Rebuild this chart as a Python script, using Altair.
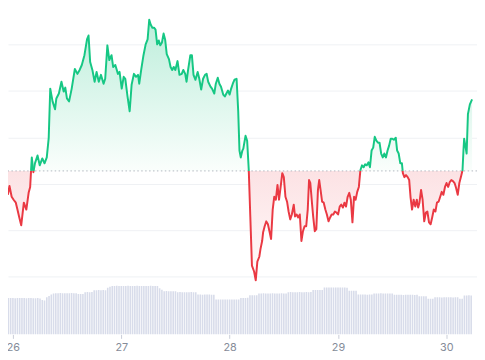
import altair as alt
import pandas as pd

# ---- price series (hours since day 26 00:00, price in chart units) ----
hours = [
    -1.12, -0.76, -0.28, 0.15, 0.64, 1.00, 1.36, 1.84, 2.42, 2.97,
    3.48, 3.82, 4.18, 4.54, 4.88, 5.45, 5.94, 6.51, 7.00, 7.50,
    7.93, 8.27, 8.78, 9.33, 9.62, 10.18, 10.75, 11.24, 11.60, 11.96,
    12.44, 13.02, 13.72, 14.29, 14.78, 15.26, 15.84, 16.41, 16.75, 17.11,
    17.60, 18.10, 18.53, 19.02, 19.50, 20.08, 20.44, 20.92, 21.35, 21.84,
    22.20, 22.68, 23.26, 23.62, 24.10, 24.53, 24.89, 25.38, 25.86, 26.29,
    26.80, 27.28, 27.71, 27.98, 28.41, 28.92, 29.40, 29.83, 30.19, 30.53,
    30.89, 31.25, 31.59, 31.95, 32.31, 32.65, 33.01, 33.37, 33.71, 34.07,
    34.56, 34.92, 35.28, 35.62, 35.98, 36.46, 36.89, 37.40, 37.74, 38.16,
    38.46, 38.80, 39.30, 39.64, 40.00, 40.43, 40.92, 41.28, 41.70, 42.12,
    42.55, 42.91, 43.25, 43.76, 44.10, 44.60, 44.94, 45.37, 45.73, 46.09,
    46.58, 46.94, 47.28, 47.64, 48.00, 48.34, 48.70, 49.06, 49.54, 49.90,
    50.18, 50.46, 50.82, 51.03, 51.52, 51.88, 52.24, 52.58, 52.94, 53.42,
    53.78, 54.14, 54.57, 54.84, 55.20, 55.42, 55.76, 56.12, 56.48, 56.82,
    57.18, 57.54, 57.88, 58.24, 58.60, 58.94, 59.30, 59.66, 60.00, 60.36,
    60.72, 61.06, 61.42, 61.78, 62.20, 62.48, 62.84, 63.18, 63.54, 63.90,
    64.24, 64.60, 64.96, 65.30, 65.59, 65.87, 66.23, 66.50, 66.86, 67.20,
    67.56, 67.84, 68.14, 68.48, 68.84, 69.20, 69.54, 69.90, 70.26, 70.60,
    70.96, 71.32, 71.66, 72.02, 72.38, 72.72, 73.08, 73.44, 73.78, 74.14,
    74.50, 74.84, 75.20, 75.56, 75.90, 76.26, 76.62, 76.96, 77.32, 77.68,
    78.02, 78.38, 78.74, 79.08, 79.44, 79.80, 80.14, 80.50, 80.86, 81.20,
    81.56, 81.92, 82.26, 82.62, 82.98, 83.32, 83.68, 84.04, 84.38, 84.80,
    85.10, 85.44, 85.80, 86.16, 86.37, 86.71, 87.07, 87.43, 87.77, 88.06,
    88.40, 88.76, 89.12, 89.46, 89.76, 90.04, 90.40, 90.74, 91.10, 91.46,
    91.80, 92.16, 92.52, 92.86, 93.22, 93.58, 93.92, 94.28, 94.64, 94.98,
    95.34, 95.70, 96.04, 96.40, 96.76, 97.10, 97.46, 97.82, 98.16, 98.52,
    98.88, 99.22, 99.58, 99.79, 99.94, 100.28, 100.49, 100.78, 101.21, 101.70,
]
price = [
    105, 114, 103, 100, 97, 90, 83, 74, 97, 90,
    107, 113, 143, 128, 137, 145, 135, 142, 137, 143,
    163, 213, 200, 192, 203, 208, 220, 210, 214, 203,
    200, 213, 233, 228, 232, 237, 247, 263, 267, 240,
    232, 220, 230, 220, 227, 218, 223, 257, 242, 247,
    235, 237, 228, 230, 213, 225, 223, 205, 190, 217,
    228, 225, 227, 218, 232, 247, 258, 263, 283, 278,
    275, 275, 273, 258, 262, 257, 260, 269, 263, 248,
    243, 235, 232, 235, 232, 241, 227, 228, 232, 228,
    220, 232, 247, 247, 227, 222, 230, 223, 212, 223,
    227, 228, 220, 215, 213, 208, 218, 224, 218, 215,
    207, 205, 208, 211, 207, 213, 218, 222, 223, 190,
    150, 143, 150, 152, 165, 160, 130, 83, 33, 27,
    18, 37, 42, 50, 58, 67, 73, 78, 75, 68,
    60, 90, 103, 100, 115, 100, 113, 127, 123, 103,
    98, 88, 80, 85, 95, 83, 85, 82, 85, 58,
    68, 73, 73, 90, 120, 117, 97, 83, 68, 70,
    110, 120, 110, 98, 97, 90, 85, 78, 82, 85,
    85, 88, 87, 85, 93, 95, 92, 97, 93, 103,
    107, 100, 77, 103, 100, 108, 113, 130, 135, 133,
    136, 135, 138, 133, 150, 153, 164, 160, 158, 158,
    147, 143, 147, 143, 150, 155, 162, 162, 161, 163,
    150, 147, 137, 137, 127, 123, 125, 123, 120, 103,
    90, 100, 93, 100, 92, 97, 110, 100, 78, 87,
    88, 77, 75, 82, 90, 88, 97, 98, 103, 108,
    105, 113, 117, 113, 118, 120, 119, 117, 112, 105,
    117, 123, 130, 150, 162, 153, 147, 187, 197, 202,
]
baseline_price = 129.3
grid_values = [22, 69, 116, 163, 211, 258]

# ---- volume (one bar every half hour) ----
vol_start = -1.0
vol_step = 0.5
volume = [
    371, 370, 370, 369, 370, 370, 371, 370, 369, 370, 370, 368, 369, 370, 366,
    350, 345,
    378, 392, 405, 415,
    420, 420, 421, 420, 419, 420, 420, 421, 420, 418,
    412, 411, 412,
    430, 431, 430, 432,
    450, 450, 451, 450, 452, 450,
    475, 486,
    493, 493, 494, 493, 493, 492, 493, 494, 493, 493, 493,
    494, 493, 493, 492, 493, 493, 494, 493, 493, 492,
    470, 455,
    440, 441, 440, 439, 440, 440,
    430, 431, 430, 430, 429, 430, 431, 430, 428,
    405, 405, 404, 406, 405, 405, 404, 403,
    355, 356, 355, 354, 355, 355, 356, 355, 354, 355, 356,
    370, 371, 370, 372,
    398, 398, 399, 398,
    417, 417, 418, 417, 416, 417, 418, 417, 417, 416, 418, 417, 417,
    430, 431, 430, 429, 430, 431, 430, 430, 432, 430, 431,
    452, 452, 453, 452, 451,
    477, 477, 478, 477, 476, 477, 478, 477, 477, 476, 475,
    445, 444, 445, 443,
    405, 405, 406, 405, 404, 405, 406,
    417, 416, 417, 418, 417, 417, 416, 417, 417,
    403, 403, 404, 403, 402, 403, 403, 404, 403, 402, 403,
    388, 388, 387, 388,
    363, 362, 363,
    377, 378, 377, 376, 377, 377, 378, 377, 376, 377, 377,
    363, 364,
    397, 397, 398, 397,
]
vol_hours = [vol_start + vol_step * i for i in range(len(volume))]

day_ticks = [0, 24, 48, 72, 96]
day_labels = ["26", "27", "28", "29", "30"]

GREEN = "#16c784"
RED = "#ea3943"

# ---- split line into above / below baseline segments ----
rows = []
seg = 0
side = lambda p: "up" if p >= baseline_price else "down"
pt, pp = hours[0], price[0]
cur = side(pp)
rows.append((pt, pp, seg, cur))
for t, p in zip(hours[1:], price[1:]):
    s = side(p)
    if s != cur:
        f = (baseline_price - pp) / (p - pp)
        tc = pt + f * (t - pt)
        rows.append((tc, baseline_price, seg, cur))
        seg += 1
        cur = s
        rows.append((tc, baseline_price, seg, cur))
    rows.append((t, p, seg, cur))
    pt, pp = t, p

line_df = pd.DataFrame(rows, columns=["t", "p", "seg", "side"])
line_df["i"] = range(len(line_df))
area_df = line_df.drop_duplicates(subset=["t", "p"]).copy()
area_df["up"] = area_df["p"].clip(lower=baseline_price)
area_df["down"] = area_df["p"].clip(upper=baseline_price)
area_df["base"] = baseline_price

vol_df = pd.DataFrame({"t": vol_hours, "vol": volume})
base_df = pd.DataFrame({"b": [baseline_price]})

label_expr = " : ".join(
    f"datum.value == {v} ? '{l}'" for v, l in zip(day_ticks, day_labels)
) + " : ''"

x_enc = alt.X(
    "t:Q",
    scale=alt.Scale(domain=[0, 101.7], nice=False, zero=False),
    axis=alt.Axis(
        values=day_ticks, labelExpr=label_expr, title=None, grid=False,
        domain=False, ticks=True, tickSize=4, tickColor="#c9cdd8",
        labelColor="#858c99", labelFontSize=11, labelFont="Inter",
        labelPadding=3, labelFlush=True,
    ),
)
price_scale = alt.Scale(domain=[-37, 292], nice=False, zero=False)

vol_layer = alt.Chart(vol_df).mark_bar(size=1.6, color="#d8dcea", clip=True).encode(
    x=x_enc,
    y=alt.Y("vol:Q", scale=alt.Scale(domain=[0, 3290], nice=False), axis=None),
)

green_grad = alt.Gradient(
    gradient="linear", x1=0, x2=0, y1=0, y2=1,
    stops=[alt.GradientStop(color="#bdeedb", offset=0),
           alt.GradientStop(color="#fafefc", offset=1)],
)
red_grad = alt.Gradient(
    gradient="linear", x1=0, x2=0, y1=0, y2=1,
    stops=[alt.GradientStop(color="#fce2e4", offset=0),
           alt.GradientStop(color="#fffbfb", offset=1)],
)

up_area = alt.Chart(area_df).mark_area(fill=green_grad, clip=True).encode(
    x=x_enc,
    y=alt.Y("up:Q", scale=price_scale, axis=alt.Axis(
        values=grid_values, grid=True, labels=False, ticks=False, domain=False,
        title=None, gridColor="#eff1f4", gridWidth=1)),
    y2="base:Q",
)
down_area = alt.Chart(area_df).mark_area(fill=red_grad, clip=True).encode(
    x=x_enc,
    y=alt.Y("down:Q", scale=price_scale, axis=None),
    y2="base:Q",
)
base_rule = alt.Chart(base_df).mark_rule(
    color="#b3b8c0", strokeWidth=1, strokeDash=[1.5, 2.5]
).encode(y=alt.Y("b:Q", scale=price_scale, axis=None))

price_line = alt.Chart(line_df).mark_line(
    strokeWidth=2, clip=True, strokeJoin="round"
).encode(
    x=x_enc,
    y=alt.Y("p:Q", scale=price_scale, axis=None),
    detail="seg:N",
    order="i:Q",
    color=alt.Color("side:N", scale=alt.Scale(domain=["up", "down"], range=[GREEN, RED]), legend=None),
)

chart = alt.layer(up_area, down_area, vol_layer, base_rule, price_line).resolve_scale(
    y="independent"
).properties(
    width=477, height=329,
    autosize=alt.AutoSizeParams(type="none"),
    padding={"left": 0, "top": 0, "right": 0, "bottom": 22},
    background="white",
).configure_view(stroke=None)

chart.save("out.html", embed_options={"renderer": "svg", "actions": False})
